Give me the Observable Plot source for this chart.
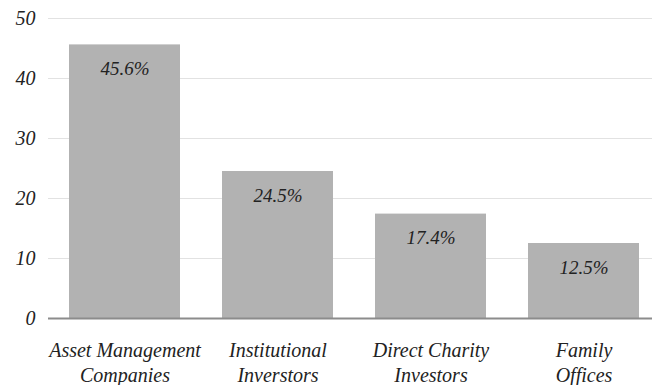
<!DOCTYPE html>
<html>
<head>
<meta charset="utf-8">
<script src="https://cdn.jsdelivr.net/npm/d3@7"></script>
<script src="https://cdn.jsdelivr.net/npm/@observablehq/plot@0.6"></script>
<style>
  html, body { margin: 0; padding: 0; background: #fff; }
</style>
</head>
<body>
<div id="chart"></div>
<script>
const categories = ["Asset Management\nCompanies", "Institutional\nInverstors", "Direct Charity\nInvestors", "Family\nOffices"];
const shares = [45.6, 24.5, 17.4, 12.5];
const valueLabels = ["45.6%", "24.5%", "17.4%", "12.5%"];
const yTicks = [0, 10, 20, 30, 40, 50];

const data = categories.map((c, i) => ({category: c, value: shares[i], label: valueLabels[i]}));
const serif = "Liberation Serif";

const chart = Plot.plot({
  width: 652,
  height: 385,
  marginLeft: 48,
  marginRight: 0,
  marginTop: 18,
  marginBottom: 67,
  style: {background: "#fff"},
  x: {domain: categories, range: [48, 660], paddingInner: 0.2745, paddingOuter: 0.1373, round: false, axis: null},
  y: {domain: [0, 50], ticks: yTicks, label: null},
  marks: [
    Plot.ruleY(yTicks.filter(d => d > 0), {stroke: "#e2e2e2", strokeWidth: 1.2}),
    Plot.axisY({ticks: yTicks, tickSize: 0, tickPadding: 13, label: null, fontSize: 20, fontFamily: serif, fontStyle: "italic", fill: "#222"}),
    Plot.barY(data, {x: "category", y: "value", fill: "#b2b2b2"}),
    Plot.ruleY([0], {stroke: "#8c8c8c", strokeWidth: 2}),
    Plot.text(data, {x: "category", y: "value", text: "label", dy: 24, fontSize: 19, fontFamily: serif, fontStyle: "italic", fill: "#222"}),
    Plot.text(data, {x: "category", y: 0, text: "category", lineAnchor: "top", dy: 21, lineHeight: 1.25, fontSize: 20, fontFamily: serif, fontStyle: "italic", fill: "#222"})
  ]
});
document.getElementById("chart").appendChild(chart);
</script>
</body>
</html>
